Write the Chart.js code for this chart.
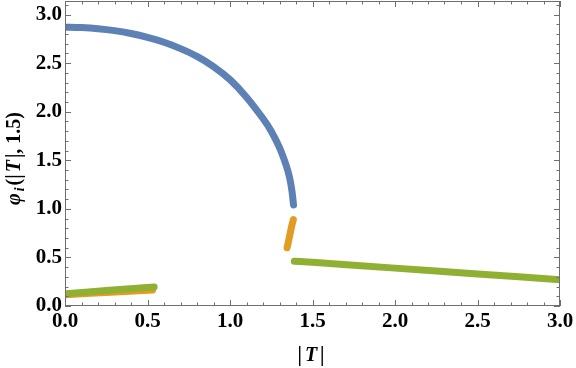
<!DOCTYPE html>
<html>
<head>
<meta charset="utf-8">
<script src="https://cdn.jsdelivr.net/npm/chart.js@4.4.0/dist/chart.umd.min.js"></script>
<style>
  html, body { margin: 0; padding: 0; background: #fff; }
</style>
</head>
<body>
<canvas id="chart" width="576" height="368"></canvas>
<script>
// branch values
const blueT = [0, 0.1, 0.2, 0.3, 0.4, 0.5, 0.6, 0.7, 0.8, 0.9, 1.0, 1.1, 1.2, 1.25, 1.3, 1.34, 1.36, 1.375, 1.385];
const blueY = [2.87, 2.866, 2.855, 2.835, 2.805, 2.765, 2.715, 2.65, 2.57, 2.465, 2.33, 2.15, 1.93, 1.80, 1.63, 1.45, 1.33, 1.19, 1.04];

const orangeLeftT = [0, 0.25, 0.53];
const orangeLeftY = [0.115, 0.14, 0.165];
const orangeRightT = [1.346, 1.355, 1.365, 1.375, 1.384];
const orangeRightY = [0.60, 0.67, 0.75, 0.83, 0.89];

const greenLeftT = [0, 0.25, 0.54];
const greenLeftY = [0.125, 0.16, 0.195];
const greenRightT = [1.39, 1.5, 2.0, 2.5, 3.0];
const greenRightY = [0.46, 0.45, 0.39, 0.33, 0.27];

const xTicks = [0, 0.5, 1.0, 1.5, 2.0, 2.5, 3.0];
const yTicks = [0, 0.5, 1.0, 1.5, 2.0, 2.5, 3.0];

const blue = '#5e81b5';
const orange = '#e19c24';
const green = '#8fb032';
const frameColor = '#6e6e6e';
const serif = "'Liberation Serif', 'Times New Roman', serif";

const toPoints = (xs, ys) => xs.map((x, i) => ({ x: x, y: ys[i] }));

const branch = (data, color, order) => ({
  data: data,
  showLine: true,
  borderColor: color,
  backgroundColor: color,
  borderWidth: 7,
  borderCapStyle: 'round',
  borderJoinStyle: 'round',
  pointRadius: 0,
  tension: 0.3,
  clip: 0,
  order: order
});

// frame with inward ticks on all four sides (Mathematica style)
const framePlugin = {
  id: 'frame',
  afterDatasetsDraw(chart) {
    const { ctx, chartArea: a, scales: { x, y } } = chart;
    ctx.save();
    ctx.strokeStyle = frameColor;
    ctx.lineWidth = 1;
    ctx.strokeRect(a.left + 0.5, a.top + 0.5, a.right - a.left - 1, a.bottom - a.top - 1);
    ctx.beginPath();
    for (let i = 0; i <= 30; i++) {
      const len = i % 5 === 0 ? 6 : 3.5;
      const px = Math.round(x.getPixelForValue(i / 10)) + 0.5;
      ctx.moveTo(px, a.bottom);
      ctx.lineTo(px, a.bottom - len);
      ctx.moveTo(px, a.top);
      ctx.lineTo(px, a.top + len);
    }
    for (let i = 0; i <= 31; i++) {
      const len = i % 5 === 0 ? 6 : 3.5;
      const py = Math.round(y.getPixelForValue(i / 10)) + 0.5;
      ctx.moveTo(a.left, py);
      ctx.lineTo(a.left + len, py);
      ctx.moveTo(a.right, py);
      ctx.lineTo(a.right - len, py);
    }
    ctx.stroke();
    ctx.restore();
  }
};

const drawParts = (ctx, parts, spacing) => {
  let total = 0;
  parts.forEach(p => {
    ctx.font = p.font;
    total += ctx.measureText(p.text).width + spacing;
  });
  let pos = -total / 2;
  parts.forEach(p => {
    ctx.font = p.font;
    ctx.fillText(p.text, pos, p.dy || 0);
    pos += ctx.measureText(p.text).width + spacing;
  });
};

const titlePlugin = {
  id: 'titles',
  afterDraw(chart) {
    const { ctx, chartArea: a } = chart;
    const bold = 'bold 20px ' + serif;
    const boldIt = 'italic bold 20px ' + serif;
    ctx.save();
    ctx.fillStyle = '#000';
    ctx.textBaseline = 'alphabetic';
    ctx.textAlign = 'left';

    // x title: |T|
    ctx.save();
    ctx.translate((a.left + a.right) / 2, 361);
    drawParts(ctx, [
      { text: '|', font: bold },
      { text: 'T', font: boldIt },
      { text: '|', font: bold }
    ], 3);
    ctx.restore();

    // y title: φ_i(|T|, 1.5)
    ctx.save();
    ctx.translate(20, (a.top + a.bottom) / 2 + 4);
    ctx.rotate(-Math.PI / 2);
    drawParts(ctx, [
      { text: 'φ', font: boldIt },
      { text: 'i', font: 'italic bold 14px ' + serif, dy: 4 },
      { text: '(|', font: bold },
      { text: 'T', font: boldIt },
      { text: '|, 1.5)', font: bold }
    ], 2);
    ctx.restore();

    ctx.restore();
  }
};

const noEdgePadding = scale => {
  scale.paddingTop = 0;
  scale.paddingBottom = 0;
  scale.paddingLeft = 0;
  scale.paddingRight = 0;
};

new Chart(document.getElementById('chart'), {
  type: 'scatter',
  data: {
    datasets: [
      branch(toPoints(blueT, blueY), blue, 3),
      branch(toPoints(orangeLeftT, orangeLeftY), orange, 2),
      branch(toPoints(orangeRightT, orangeRightY), orange, 2),
      branch(toPoints(greenLeftT, greenLeftY), green, 1),
      branch(toPoints(greenRightT, greenRightY), green, 1)
    ]
  },
  options: {
    responsive: false,
    animation: false,
    layout: { padding: { left: 0, right: 16, top: 1, bottom: 0 } },
    plugins: {
      legend: { display: false },
      tooltip: { enabled: false }
    },
    scales: {
      x: {
        type: 'linear',
        min: 0,
        max: 3.0,
        afterFit: scale => { noEdgePadding(scale); scale.height = 62; },
        afterBuildTicks: scale => { scale.ticks = xTicks.map(v => ({ value: v })); },
        border: { display: false },
        grid: { display: false, drawTicks: false },
        ticks: {
          padding: 3,
          maxRotation: 0,
          color: '#000',
          font: { family: serif, size: 21, weight: 'bold' },
          callback: v => v.toFixed(1)
        }
      },
      y: {
        type: 'linear',
        min: 0,
        max: 3.14,
        afterFit: scale => { noEdgePadding(scale); scale.width = 65; },
        afterBuildTicks: scale => { scale.ticks = yTicks.map(v => ({ value: v })); },
        border: { display: false },
        grid: { display: false, drawTicks: false },
        ticks: {
          padding: 3,
          color: '#000',
          font: { family: serif, size: 21, weight: 'bold' },
          callback: v => v.toFixed(1)
        }
      }
    }
  },
  plugins: [framePlugin, titlePlugin]
});
</script>
</body>
</html>
